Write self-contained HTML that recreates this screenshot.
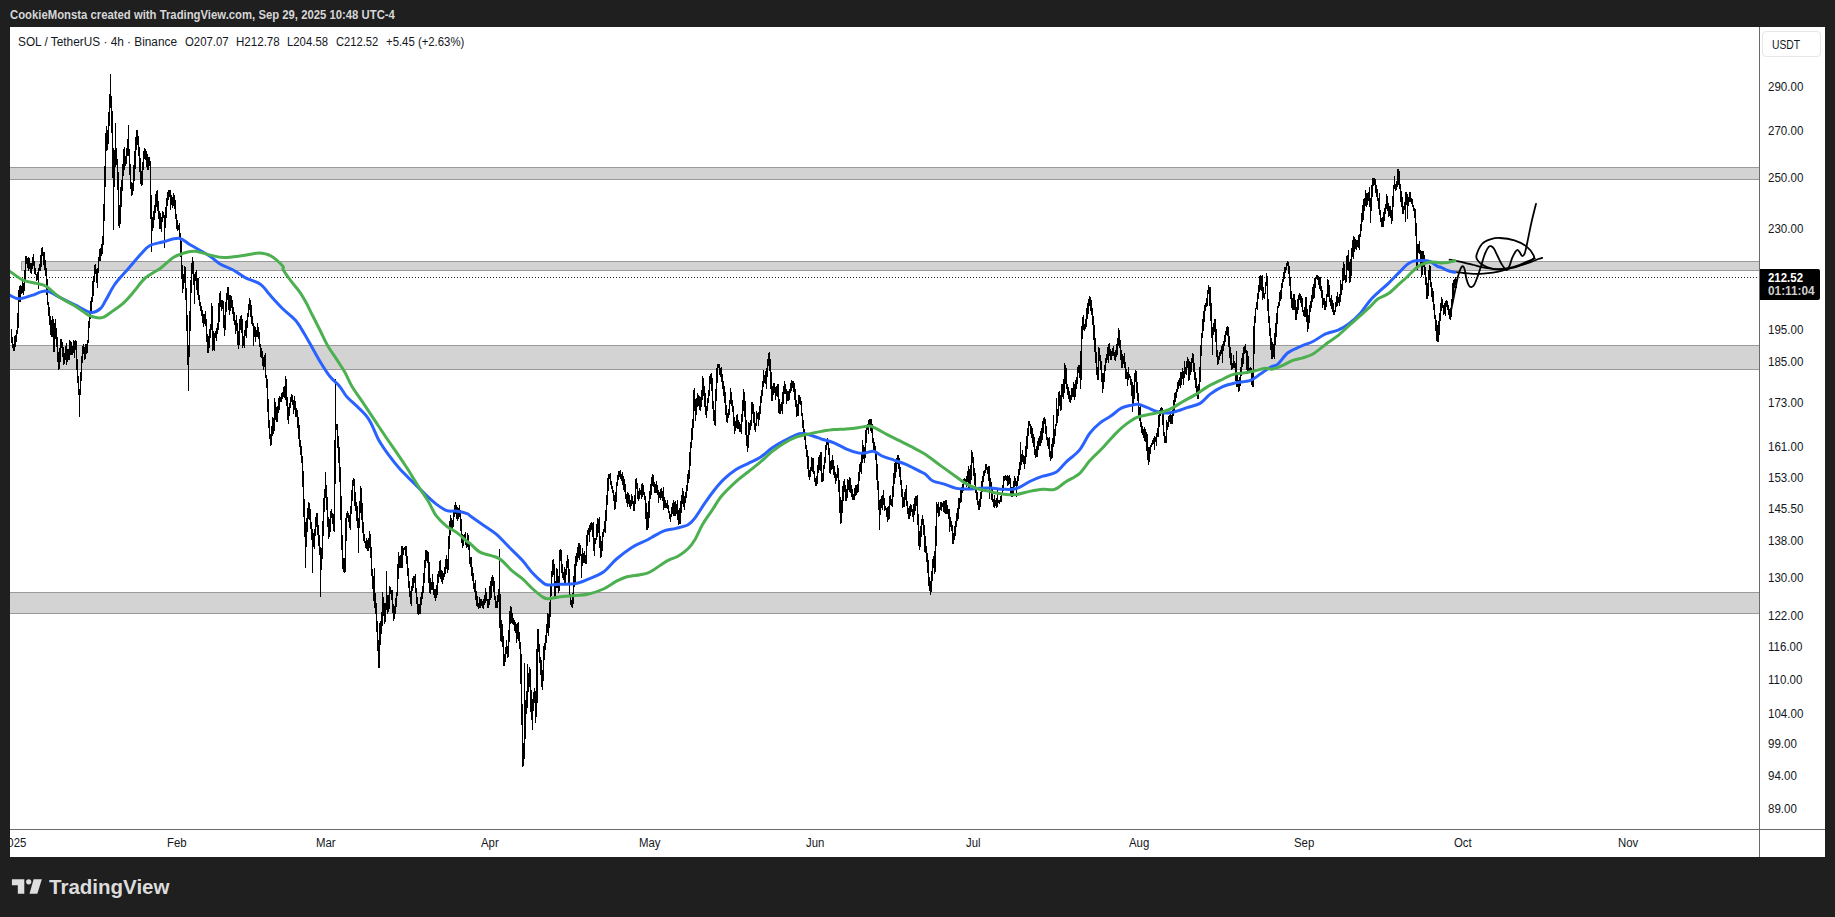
<!DOCTYPE html>
<html><head><meta charset="utf-8"><title>SOL chart</title>
<style>
html,body{margin:0;padding:0;}
body{width:1835px;height:917px;background:#1f1f1f;overflow:hidden;position:relative;font-family:"Liberation Sans",sans-serif;}
#hdr{position:absolute;left:10px;top:8px;height:14px;line-height:14px;font-size:12px;font-weight:bold;color:#d6d6d6;white-space:nowrap;transform-origin:0 50%;transform:scaleX(0.943);}
#pane{position:absolute;left:10px;top:27px;width:1815px;height:830px;background:#fff;overflow:hidden;}
.lg{position:absolute;top:35px;height:14px;line-height:14px;font-size:12px;color:#131722;white-space:pre;transform-origin:0 50%;}
svg{position:absolute;left:0;top:0;}
.pl{position:absolute;left:1768px;width:50px;height:16px;line-height:16px;font-size:12px;color:#131722;transform-origin:0 50%;transform:scaleX(0.962);}
#tax{position:absolute;left:10px;top:830px;width:1749px;height:27px;overflow:hidden;}
.tl{position:absolute;top:5px;height:16px;line-height:16px;font-size:12px;color:#131722;white-space:nowrap;transform-origin:0 50%;transform:scaleX(0.95);}
#usdt{position:absolute;left:1762px;top:31px;width:59px;height:26px;border:1px solid #e6e6e6;border-radius:4px;box-sizing:border-box;font-size:12px;line-height:26px;color:#131722;}
#usdt span{position:absolute;left:9px;top:0;transform-origin:0 50%;transform:scaleX(0.86);}
#cur{position:absolute;left:1760px;top:269px;width:60px;height:31px;background:#000;border-radius:0 2px 2px 0;color:#fff;font-size:12px;font-weight:bold;}
#cur div{position:absolute;left:8px;height:13px;line-height:13px;white-space:nowrap;transform-origin:0 50%;transform:scaleX(0.93);}
#logo{position:absolute;left:49px;top:874px;height:26px;line-height:26px;font-size:20px;font-weight:bold;color:#dcdcdc;transform-origin:0 50%;transform:scaleX(1.026);}
</style></head><body>
<div id="hdr">CookieMonsta created with TradingView.com, Sep 29, 2025 10:48 UTC-4</div>
<div id="pane"></div>
<svg width="1835" height="917" viewBox="0 0 1835 917">
<defs><clipPath id="cp"><rect x="10" y="27" width="1749" height="802"/></clipPath></defs>
<g clip-path="url(#cp)">
<rect x="8.5" y="167.5" width="1751.0" height="12.0" fill="#d3d3d3" stroke="#9a9a9a" stroke-width="1"/><rect x="21.5" y="261.5" width="1738.0" height="9.0" fill="#d3d3d3" stroke="#9a9a9a" stroke-width="1"/><rect x="8.5" y="345.5" width="1751.0" height="24.0" fill="#d3d3d3" stroke="#9a9a9a" stroke-width="1"/><rect x="8.5" y="592.5" width="1751.0" height="21.0" fill="#d3d3d3" stroke="#9a9a9a" stroke-width="1"/>
<line x1="10" y1="277.5" x2="1759" y2="277.5" stroke="#222" stroke-width="1" stroke-dasharray="1 2"/>
<path d="M11 329.3V343.4M12 336.6V347.6M13 344.1V351.0M14 335.9V351.3M15 334.9V347.2M16 329.8V341.9M17 313.3V333.9M18 289.9V328.3M19 285.7V301.8M20 284.8V302.3M21 285.5V293.6M22 280.7V292.6M23 282.6V295.4M24 270.3V291.4M25 255.8V280.3M26 256.2V264.3M27 258.4V267.7M28 257.3V270.7M29 258.0V268.8M30 262.9V273.3M31 262.8V273.5M32 256.5V269.3M33 253.8V266.4M34 260.9V273.7M35 268.1V275.3M36 273.8V281.1M37 272.2V280.0M38 268.1V288.9M39 263.5V270.7M40 255.3V271.0M41 247.8V267.0M42 247.4V255.9M43 252.0V265.1M44 251.7V269.7M45 260.0V275.7M46 267.7V294.8M47 279.3V304.5M48 302.4V316.0M49 306.9V324.8M50 315.7V335.3M51 320.1V336.8M52 316.3V336.9M53 319.1V351.9M54 323.1V352.3M55 319.1V338.8M56 328.2V347.1M57 337.2V361.5M58 352.1V369.6M59 347.6V369.1M60 338.8V361.9M61 339.0V347.8M62 341.9V356.9M63 346.9V364.5M64 352.5V363.8M65 345.7V359.8M66 342.5V364.5M67 349.4V361.6M68 349.3V360.3M69 340.3V359.8M70 341.2V355.3M71 342.2V354.9M72 346.0V355.4M73 340.1V352.6M74 341.0V358.4M75 339.7V350.4M76 340.7V369.6M77 358.6V382.6M78 375.5V395.2M79 389.4V416.5M80 372.0V395.1M81 355.6V381.4M82 346.2V363.0M83 343.9V354.3M84 347.1V359.6M85 343.9V358.8M86 344.1V354.2M87 340.2V353.1M88 320.8V343.3M89 312.3V328.4M90 300.9V319.1M91 296.9V311.4M92 281.2V302.0M93 275.7V296.2M94 265.3V281.8M95 264.4V274.4M96 268.9V283.2M97 267.7V287.7M98 257.4V273.4M99 249.1V261.2M100 248.0V260.9M101 244.1V255.7M102 235.8V254.4M103 204.3V245.1M104 166.1V221.0M105 133.2V186.5M106 126.3V150.6M107 130.4V150.0M108 112.3V144.1M109 94.4V126.1M110 74.2V107.5M111 96.1V132.9M112 111.4V178.3M113 147.6V230.1M114 150.2V187.3M115 123.2V166.8M116 147.5V165.0M117 158.9V189.8M118 172.0V225.6M119 204.8V227.9M120 186.9V224.1M121 180.4V207.2M122 163.8V190.5M123 149.0V175.6M124 147.1V170.1M125 155.8V166.4M126 147.5V164.1M127 139.2V156.4M128 125.4V156.2M129 149.1V174.7M130 163.6V188.8M131 182.2V196.3M132 183.2V195.1M133 165.0V190.7M134 150.8V180.7M135 136.8V168.6M136 129.5V150.3M137 129.8V145.4M138 135.7V156.2M139 147.0V171.6M140 158.3V183.6M141 170.5V186.2M142 161.6V185.1M143 150.9V169.7M144 147.8V159.0M145 148.8V159.5M146 150.7V167.1M147 154.2V169.6M148 156.8V169.5M149 157.2V165.8M150 160.8V218.9M151 194.8V251.9M152 217.1V230.5M153 210.7V228.3M154 205.0V219.6M155 193.8V212.7M156 190.8V206.8M157 190.0V210.6M158 200.5V219.1M159 210.5V228.5M160 212.7V228.9M161 217.0V232.4M162 211.1V222.1M163 211.5V218.1M164 214.6V247.6M165 206.8V227.5M166 198.3V218.1M167 191.5V205.6M168 189.7V200.2M169 189.8V197.4M170 189.7V210.2M171 194.8V205.0M172 196.8V207.8M173 192.7V206.4M174 195.0V208.5M175 199.7V218.9M176 213.5V228.6M177 220.0V231.0M178 225.3V230.4M179 222.5V239.9M180 233.1V256.7M181 241.4V278.7M182 265.0V292.9M183 273.8V289.3M184 266.4V283.3M185 267.2V300.4M186 288.0V331.1M187 314.7V365.2M188 344.7V391.4M189 311.2V357.2M190 279.5V331.2M191 262.9V293.1M192 257.3V274.1M193 260.5V284.9M194 273.6V304.2M195 271.9V280.9M196 269.8V289.7M197 278.4V295.0M198 278.4V299.6M199 295.2V306.2M200 302.1V310.6M201 305.6V315.9M202 309.7V323.0M203 314.0V327.2M204 314.4V323.5M205 311.1V326.4M206 319.1V341.5M207 333.7V352.8M208 335.5V353.0M209 328.9V347.5M210 323.8V337.7M211 302.7V329.8M212 306.3V351.3M213 330.6V349.9M214 332.9V350.5M215 331.1V338.4M216 327.8V341.1M217 322.6V333.7M218 303.1V330.1M219 292.5V321.9M220 290.6V307.3M221 299.5V310.6M222 300.4V309.3M223 300.7V327.7M224 314.6V335.6M225 301.6V329.8M226 292.9V311.6M227 287.4V299.8M228 287.2V309.5M229 294.8V315.0M230 295.3V310.8M231 295.9V308.3M232 299.7V314.2M233 306.8V321.4M234 312.1V324.9M235 320.1V334.4M236 315.4V330.9M237 323.3V345.0M238 331.3V348.5M239 319.2V345.2M240 316.2V329.6M241 315.4V332.6M242 318.6V348.1M243 335.8V346.0M244 330.0V348.0M245 320.6V336.3M246 319.8V337.5M247 312.9V327.6M248 303.7V317.4M249 298.3V309.7M250 299.7V317.1M251 304.6V323.6M252 316.2V325.9M253 322.9V346.3M254 325.7V336.6M255 326.8V342.4M256 330.2V337.3M257 323.0V336.5M258 326.7V339.0M259 331.6V346.6M260 343.7V356.5M261 347.7V358.1M262 350.8V366.1M263 356.7V370.2M264 354.8V367.2M265 353.3V378.3M266 374.7V388.3M267 379.3V412.2M268 399.3V428.3M269 420.4V439.3M270 434.4V445.5M271 425.7V444.6M272 417.2V436.2M273 418.1V433.9M274 398.4V431.0M275 401.9V419.7M276 406.7V422.4M277 406.3V421.6M278 398.4V412.9M279 395.7V409.7M280 396.5V402.3M281 392.9V402.4M282 391.8V399.1M283 387.4V397.0M284 386.0V397.5M285 376.4V400.0M286 379.1V406.4M287 396.9V420.4M288 406.8V423.6M289 402.8V415.8M290 397.2V408.2M291 394.3V402.3M292 394.7V404.5M293 400.1V414.1M294 396.2V410.0M295 400.7V417.2M296 407.7V417.1M297 409.9V427.9M298 416.5V439.1M299 425.4V446.9M300 440.3V455.4M301 445.7V463.0M302 455.9V487.4M303 470.9V516.5M304 499.0V536.5M305 522.2V568.2M306 518.3V546.6M307 507.9V531.5M308 501.6V518.7M309 502.9V519.9M310 509.1V528.7M311 521.8V540.0M312 528.5V573.4M313 533.2V547.0M314 528.6V548.9M315 516.8V536.4M316 513.2V527.1M317 513.2V535.4M318 524.6V545.6M319 535.3V554.6M320 547.3V597.0M321 548.4V570.0M322 521.1V558.5M323 497.6V536.2M324 489.0V511.6M325 471.5V497.8M326 484.6V509.5M327 497.2V526.6M328 516.7V538.8M329 518.7V537.1M330 511.3V531.9M331 508.8V517.7M332 512.8V523.9M333 514.4V531.1M334 440.4V532.2M335 378.5V484.4M336 423.7V429.8M337 423.6V447.8M338 436.1V462.7M339 447.3V481.5M340 466.7V519.8M341 495.7V550.1M342 534.6V569.1M343 558.2V571.7M344 558.4V573.4M345 517.8V571.5M346 513.1V540.9M347 510.5V517.9M348 512.5V522.0M349 514.7V527.5M350 506.3V530.4M351 490.1V514.1M352 479.8V501.2M353 477.9V486.1M354 478.6V506.3M355 491.9V510.6M356 502.1V520.7M357 506.3V527.7M358 517.9V552.5M359 501.1V527.5M360 485.5V513.4M361 488.0V520.3M362 503.3V533.1M363 522.3V541.4M364 534.2V542.8M365 540.8V547.7M366 538.3V548.9M367 540.3V551.0M368 538.3V550.5M369 531.0V548.1M370 533.8V557.7M371 547.2V575.6M372 569.1V588.5M373 575.6V601.3M374 568.2V608.2M375 593.4V613.5M376 603.1V631.7M377 620.6V651.4M378 640.3V668.0M379 622.9V667.6M380 621.3V645.2M381 612.2V634.3M382 591.7V625.8M383 597.1V616.4M384 603.2V624.2M385 602.9V622.0M386 570.8V610.1M387 594.7V613.9M388 595.4V611.5M389 586.0V609.1M390 587.4V594.3M391 590.1V600.2M392 589.9V613.1M393 603.9V620.5M394 605.7V619.4M395 598.0V614.4M396 591.5V607.1M397 563.5V596.0M398 551.9V579.1M399 556.2V568.4M400 555.3V567.5M401 546.4V568.2M402 546.4V568.0M403 547.6V554.9M404 546.6V550.0M405 546.0V555.9M406 546.2V563.5M407 556.1V576.3M408 567.7V587.7M409 581.4V596.7M410 591.1V603.7M411 585.8V606.4M412 578.1V591.3M413 576.2V588.2M414 575.6V583.1M415 574.2V593.1M416 587.9V604.1M417 596.7V613.7M418 604.4V615.3M419 603.9V613.7M420 596.8V614.2M421 592.2V605.4M422 586.4V598.9M423 573.1V593.3M424 559.8V583.3M425 549.5V568.4M426 549.9V561.3M427 551.2V563.1M428 552.0V582.5M429 561.7V593.3M430 578.4V593.5M431 581.6V590.3M432 574.1V589.5M433 581.5V594.9M434 588.6V597.8M435 589.3V600.9M436 584.6V597.9M437 574.1V594.5M438 571.0V583.4M439 561.0V576.9M440 560.0V579.4M441 569.6V582.0M442 571.1V583.5M443 573.2V579.9M444 566.6V576.8M445 559.4V574.0M446 554.8V568.7M447 558.8V572.5M448 536.0V570.2M449 520.6V548.5M450 514.7V534.9M451 518.3V531.1M452 519.7V530.1M453 510.7V526.6M454 504.8V516.9M455 501.5V514.4M456 504.7V518.8M457 506.7V521.3M458 508.1V518.8M459 505.1V516.8M460 509.5V530.8M461 519.3V543.0M462 533.6V547.9M463 534.6V546.1M464 533.5V539.4M465 532.0V545.3M466 540.8V547.6M467 533.1V546.9M468 534.5V550.3M469 541.8V564.1M470 556.8V567.3M471 557.4V575.8M472 566.5V581.3M473 572.8V589.4M474 583.1V592.0M475 579.8V599.8M476 591.4V606.2M477 596.3V607.2M478 603.3V608.7M479 596.7V607.9M480 598.6V608.0M481 599.2V605.7M482 600.6V608.0M483 598.7V608.7M484 594.8V605.4M485 588.3V603.3M486 592.1V601.3M487 598.5V608.1M488 599.4V607.9M489 585.5V605.2M490 581.0V599.8M491 577.2V597.6M492 574.7V585.8M493 577.4V591.6M494 581.4V600.3M495 596.1V607.9M496 601.0V607.6M497 595.1V607.5M498 588.7V601.8M499 548.5V628.1M500 593.7V640.6M501 619.6V642.2M502 624.4V646.9M503 635.8V666.2M504 654.4V666.2M505 646.9V662.4M506 639.5V653.9M507 645.7V658.1M508 629.5V656.7M509 611.3V642.3M510 606.1V624.1M511 607.1V623.2M512 612.6V624.2M513 618.0V624.9M514 619.7V631.1M515 621.5V633.0M516 623.9V643.4M517 623.4V638.7M518 621.8V640.6M519 631.9V648.8M520 641.8V683.7M521 653.7V724.7M522 703.7V766.6M523 742.9V765.9M524 662.7V759.2M525 699.7V739.4M526 690.9V713.9M527 664.3V707.6M528 672.6V691.7M529 667.3V687.4M530 669.0V712.0M531 690.0V720.4M532 699.1V729.8M533 691.5V711.2M534 687.7V703.1M535 690.7V722.6M536 648.5V716.6M537 629.1V702.8M538 628.6V652.3M539 644.3V663.0M540 656.8V675.3M541 660.0V687.0M542 670.1V690.0M543 646.2V681.1M544 643.4V659.6M545 634.9V649.8M546 623.6V643.1M547 613.0V633.4M548 613.5V636.4M549 602.0V628.0M550 586.2V616.7M551 571.1V595.9M552 560.3V576.6M553 558.5V574.6M554 563.5V596.5M555 580.5V597.7M556 568.3V587.9M557 568.6V588.3M558 576.2V593.2M559 549.6V591.4M560 549.4V561.0M561 550.3V572.6M562 564.4V577.6M563 571.8V580.4M564 566.9V583.0M565 569.0V584.4M566 561.0V575.4M567 555.4V567.9M568 558.6V584.5M569 568.6V596.6M570 593.9V604.6M571 600.3V607.4M572 593.1V607.6M573 575.5V604.1M574 563.9V586.8M575 556.2V581.6M576 552.6V565.9M577 547.3V562.1M578 543.2V557.8M579 543.2V560.0M580 544.7V556.4M581 553.6V578.2M582 547.5V565.9M583 553.1V562.6M584 551.1V562.7M585 555.0V564.2M586 535.1V564.1M587 530.2V546.3M588 528.2V535.1M589 525.3V542.0M590 523.4V531.9M591 522.3V529.9M592 523.3V536.6M593 522.0V550.5M594 538.3V556.3M595 537.8V544.3M596 523.7V540.4M597 517.9V537.0M598 519.3V532.7M599 516.6V547.8M600 535.8V557.7M601 540.7V556.6M602 531.5V550.7M603 528.6V536.5M604 520.7V532.2M605 510.4V533.2M606 495.3V520.8M607 478.0V504.9M608 473.9V491.4M609 473.9V478.6M610 473.3V484.8M611 481.0V488.8M612 485.5V493.0M613 489.9V500.9M614 494.7V509.7M615 492.0V509.3M616 482.4V502.0M617 474.5V486.3M618 471.0V479.8M619 470.5V477.2M620 469.6V479.4M621 474.0V480.5M622 472.1V485.2M623 476.2V490.0M624 478.8V491.6M625 483.8V498.6M626 494.1V502.9M627 492.3V506.7M628 492.8V503.5M629 495.4V506.6M630 500.0V509.3M631 493.5V506.4M632 495.8V503.8M633 501.0V510.6M634 494.7V510.6M635 479.4V504.4M636 477.6V489.0M637 482.9V499.2M638 490.5V501.2M639 488.2V498.9M640 490.3V494.7M641 483.5V498.6M642 482.7V496.8M643 485.2V495.2M644 491.5V500.0M645 496.0V518.5M646 502.5V529.6M647 512.1V529.6M648 500.5V527.5M649 490.5V518.0M650 484.2V499.4M651 477.3V495.1M652 474.4V485.9M653 475.3V487.2M654 481.5V492.8M655 484.1V493.1M656 480.9V492.6M657 485.2V494.6M658 489.7V503.1M659 492.3V498.4M660 489.4V500.2M661 488.0V498.4M662 491.2V500.6M663 486.7V510.4M664 497.4V507.5M665 499.7V507.6M666 503.2V507.6M667 500.1V508.5M668 504.8V513.4M669 511.3V519.1M670 514.1V521.6M671 506.7V517.1M672 502.6V513.8M673 499.8V515.7M674 502.0V516.4M675 501.3V516.3M676 504.2V513.8M677 500.0V519.5M678 510.4V524.8M679 508.1V523.8M680 501.1V524.0M681 494.7V512.7M682 488.3V503.7M683 490.6V506.5M684 496.2V510.1M685 491.6V502.5M686 484.6V498.0M687 474.4V491.0M688 470.1V483.2M689 451.9V478.9M690 441.5V465.8M691 428.4V448.0M692 419.1V439.7M693 390.2V428.3M694 388.0V410.5M695 398.5V421.2M696 398.4V415.2M697 392.8V407.0M698 394.8V405.7M699 396.2V410.2M700 396.7V411.1M701 389.8V406.5M702 375.7V399.5M703 378.2V395.8M704 386.0V407.0M705 392.6V414.7M706 406.1V418.1M707 397.8V410.8M708 390.1V402.8M709 376.3V396.3M710 373.7V384.3M711 372.8V391.2M712 378.2V409.2M713 401.1V421.1M714 410.4V425.2M715 389.4V425.5M716 368.0V400.9M717 364.0V382.9M718 364.0V367.5M719 364.0V375.2M720 367.9V376.5M721 366.8V382.0M722 374.4V389.1M723 381.4V395.7M724 386.0V403.0M725 391.7V415.0M726 404.5V422.1M727 413.4V423.4M728 409.0V418.0M729 399.6V415.2M730 388.4V403.6M731 392.0V405.9M732 399.8V411.9M733 406.2V425.9M734 416.9V433.9M735 421.4V431.1M736 415.2V427.8M737 413.6V428.9M738 420.0V428.5M739 421.9V432.3M740 423.7V432.3M741 413.6V433.6M742 399.9V422.0M743 389.2V411.3M744 391.5V416.5M745 401.2V435.4M746 420.1V445.7M747 435.0V451.6M748 421.9V448.0M749 422.8V435.1M750 419.6V429.9M751 402.0V426.3M752 401.6V414.4M753 403.6V423.3M754 412.1V429.9M755 422.6V432.0M756 410.9V426.2M757 412.5V419.4M758 411.6V425.5M759 406.4V419.9M760 396.4V413.5M761 390.2V403.0M762 381.0V396.4M763 370.3V387.2M764 374.9V382.8M765 370.7V383.7M766 368.0V388.6M767 359.0V377.2M768 352.7V365.6M769 351.8V371.1M770 359.1V389.3M771 372.3V401.2M772 386.4V401.0M773 383.2V395.3M774 383.2V392.8M775 387.4V400.3M776 386.2V395.7M777 384.4V397.3M778 384.0V412.9M779 398.5V414.0M780 404.2V414.4M781 402.2V411.0M782 391.5V413.5M783 385.8V403.5M784 380.8V394.2M785 384.0V393.5M786 389.0V404.3M787 391.1V400.9M788 390.7V400.6M789 388.9V399.5M790 382.8V393.4M791 379.6V390.7M792 380.9V387.9M793 380.9V391.7M794 383.2V400.2M795 389.0V407.3M796 399.6V416.9M797 403.9V415.9M798 394.5V415.9M799 394.7V403.5M800 396.8V405.2M801 401.0V415.9M802 413.1V427.5M803 420.0V433.1M804 428.7V439.9M805 433.9V449.2M806 444.5V456.7M807 450.3V468.8M808 455.7V477.4M809 469.9V480.0M810 467.0V477.4M811 456.7V471.3M812 457.5V471.8M813 457.9V473.8M814 470.8V481.7M815 478.4V485.5M816 475.8V486.0M817 464.8V484.2M818 457.4V473.4M819 454.6V469.6M820 451.7V471.0M821 451.6V482.1M822 472.5V481.9M823 465.4V480.5M824 457.4V469.0M825 445.1V462.6M826 439.1V450.2M827 438.0V445.3M828 440.3V455.1M829 447.8V473.4M830 460.7V473.8M831 459.5V470.0M832 454.6V468.9M833 460.1V474.6M834 466.0V477.9M835 472.3V484.1M836 474.0V481.3M837 464.8V478.3M838 467.5V491.5M839 480.4V512.9M840 496.9V524.4M841 499.9V522.6M842 485.6V512.8M843 480.9V500.5M844 478.6V492.4M845 484.8V500.7M846 488.6V500.8M847 479.0V497.5M848 480.3V489.9M849 477.3V491.7M850 477.8V492.8M851 485.4V496.7M852 488.6V499.7M853 494.1V499.8M854 488.4V500.3M855 485.2V495.6M856 485.0V494.8M857 483.9V493.4M858 471.5V491.6M859 463.9V480.8M860 462.1V472.3M861 452.0V473.6M862 440.1V462.9M863 444.8V458.6M864 447.0V463.0M865 430.1V458.0M866 425.3V442.6M867 423.7V430.4M868 419.8V433.6M869 418.8V426.8M870 418.8V430.7M871 418.8V433.4M872 423.9V443.2M873 437.6V451.0M874 442.2V451.4M875 445.8V459.6M876 453.1V479.5M877 464.2V490.3M878 481.0V510.0M879 500.3V530.4M880 498.6V514.5M881 496.0V507.9M882 494.5V509.8M883 490.3V504.9M884 497.9V511.1M885 505.8V509.9M886 508.1V516.5M887 506.8V522.0M888 506.3V519.6M889 496.1V518.9M890 494.6V504.8M891 498.7V506.1M892 486.2V507.4M893 472.5V496.7M894 463.4V483.8M895 459.7V477.5M896 457.7V471.6M897 454.8V464.3M898 454.9V468.9M899 457.5V477.0M900 467.3V484.8M901 479.9V497.0M902 488.5V508.1M903 497.0V507.3M904 491.7V507.0M905 489.0V500.1M906 485.0V505.8M907 501.2V513.5M908 508.3V518.5M909 505.5V519.3M910 503.6V516.1M911 505.0V512.1M912 508.8V517.2M913 503.5V521.5M914 498.4V514.8M915 495.9V510.8M916 495.6V505.6M917 495.3V525.0M918 513.7V545.8M919 531.4V550.4M920 526.0V547.4M921 518.9V537.0M922 514.8V524.6M923 519.2V534.9M924 525.3V552.2M925 536.1V552.5M926 545.6V562.1M927 553.3V572.5M928 559.9V586.0M929 577.1V590.9M930 580.7V595.2M931 571.0V591.5M932 559.4V581.1M933 555.6V567.6M934 551.0V573.5M935 526.1V572.0M936 502.1V546.2M937 503.6V512.7M938 501.8V516.9M939 506.9V515.7M940 501.8V510.1M941 501.6V510.7M942 502.8V507.4M943 501.2V511.8M944 501.0V513.4M945 500.4V514.4M946 500.4V513.8M947 505.3V513.6M948 509.0V519.4M949 509.2V531.9M950 517.1V527.4M951 521.0V531.3M952 525.0V543.9M953 533.4V543.6M954 525.6V540.3M955 521.0V536.4M956 512.9V526.6M957 507.8V521.3M958 497.6V519.3M959 498.1V508.8M960 490.2V502.8M961 486.7V502.4M962 483.8V492.7M963 478.8V491.1M964 477.9V484.0M965 478.7V483.2M966 475.8V486.6M967 470.8V481.5M968 465.7V489.6M969 468.5V487.7M970 465.2V486.4M971 449.7V480.4M972 451.5V463.2M973 457.0V475.9M974 467.8V485.2M975 473.3V493.4M976 488.8V499.7M977 491.6V504.5M978 501.4V510.0M979 498.6V510.0M980 492.3V506.9M981 481.2V499.1M982 476.3V492.4M983 471.2V481.6M984 469.7V475.7M985 464.4V472.7M986 464.4V470.4M987 466.8V474.0M988 466.1V481.0M989 465.6V498.7M990 478.1V488.5M991 481.5V499.6M992 489.1V502.0M993 499.3V507.4M994 494.7V507.6M995 499.9V505.5M996 498.3V507.8M997 489.7V507.4M998 499.9V503.1M999 499.5V503.6M1000 496.2V502.1M1001 493.9V502.3M1002 484.6V495.1M1003 475.8V490.9M1004 475.7V481.3M1005 474.9V479.7M1006 476.1V480.9M1007 475.0V486.1M1008 476.0V485.1M1009 474.8V483.6M1010 478.3V493.8M1011 486.5V497.2M1012 487.1V497.2M1013 481.0V493.7M1014 475.7V486.9M1015 477.5V486.1M1016 481.2V497.2M1017 475.8V486.1M1018 468.5V480.8M1019 462.0V474.5M1020 441.8V470.1M1021 453.7V465.4M1022 449.5V461.8M1023 455.1V464.3M1024 456.3V468.8M1025 446.0V464.4M1026 435.5V456.9M1027 427.7V448.7M1028 421.0V436.2M1029 421.3V426.0M1030 423.5V433.7M1031 426.1V437.6M1032 427.5V442.6M1033 434.1V446.7M1034 436.6V454.7M1035 449.0V457.9M1036 445.6V456.6M1037 441.0V456.5M1038 438.3V449.8M1039 435.5V446.0M1040 430.8V445.7M1041 428.2V443.0M1042 421.3V439.9M1043 418.4V433.0M1044 417.4V423.9M1045 418.6V433.7M1046 426.0V439.7M1047 436.9V446.0M1048 437.6V448.6M1049 437.1V456.8M1050 450.8V460.5M1051 444.4V459.1M1052 437.9V457.9M1053 414.8V446.7M1054 428.5V444.1M1055 423.5V435.7M1056 398.2V425.8M1057 408.6V423.1M1058 391.8V416.0M1059 391.1V405.9M1060 394.8V410.5M1061 384.3V410.4M1062 384.4V397.1M1063 378.7V398.5M1064 363.2V393.0M1065 364.8V383.6M1066 367.8V389.3M1067 384.3V394.8M1068 387.3V398.5M1069 391.4V401.7M1070 394.7V402.8M1071 388.4V399.8M1072 387.9V396.8M1073 381.5V397.4M1074 384.4V399.5M1075 380.3V397.1M1076 377.1V388.6M1077 366.8V384.3M1078 365.4V373.0M1079 365.3V378.1M1080 351.1V388.8M1081 325.5V380.4M1082 317.3V339.0M1083 314.9V330.2M1084 323.5V330.9M1085 319.2V329.1M1086 308.3V326.8M1087 302.6V319.1M1088 299.0V314.4M1089 295.7V306.3M1090 296.6V311.4M1091 299.5V315.4M1092 308.0V325.3M1093 315.9V340.0M1094 325.2V352.2M1095 337.6V362.9M1096 352.2V374.5M1097 366.8V380.0M1098 346.9V379.7M1099 348.2V360.7M1100 354.9V369.6M1101 361.3V382.1M1102 373.2V392.5M1103 372.6V388.9M1104 365.4V382.1M1105 358.1V371.4M1106 353.8V362.7M1107 346.9V359.6M1108 344.2V362.7M1109 343.0V356.1M1110 349.2V360.3M1111 350.6V360.3M1112 348.3V356.2M1113 345.9V355.8M1114 352.1V360.4M1115 350.4V361.1M1116 343.7V357.1M1117 337.7V355.0M1118 328.4V346.2M1119 329.9V348.0M1120 340.2V359.6M1121 349.8V367.6M1122 353.8V368.3M1123 355.5V363.7M1124 352.5V367.9M1125 362.2V378.5M1126 369.4V379.2M1127 372.4V385.5M1128 367.2V380.1M1129 373.5V378.1M1130 375.7V385.2M1131 378.8V395.6M1132 382.2V412.3M1133 385.2V405.1M1134 372.7V398.9M1135 370.3V382.2M1136 370.9V392.6M1137 382.0V401.4M1138 392.5V416.7M1139 406.7V421.0M1140 405.3V426.9M1141 421.7V432.5M1142 426.4V434.7M1143 429.4V438.0M1144 426.5V441.2M1145 429.0V441.8M1146 432.2V450.5M1147 433.6V460.2M1148 446.6V464.5M1149 446.5V461.7M1150 444.7V454.3M1151 442.8V447.2M1152 440.4V445.2M1153 438.1V444.0M1154 435.8V449.5M1155 436.6V442.2M1156 432.5V446.2M1157 427.9V437.0M1158 415.0V437.3M1159 409.5V426.8M1160 408.3V415.8M1161 406.7V414.4M1162 407.5V425.2M1163 414.0V436.2M1164 432.2V443.4M1165 435.6V443.0M1166 419.7V442.6M1167 422.2V430.4M1168 415.7V426.6M1169 414.5V421.6M1170 414.2V423.8M1171 415.3V423.7M1172 409.6V423.6M1173 400.2V415.5M1174 393.1V410.7M1175 391.5V402.3M1176 389.2V398.4M1177 381.7V391.7M1178 379.9V389.2M1179 377.5V386.2M1180 372.1V387.8M1181 371.7V384.5M1182 367.6V379.4M1183 370.6V384.5M1184 360.5V378.1M1185 367.2V374.4M1186 360.7V374.7M1187 356.9V367.9M1188 359.1V380.8M1189 360.5V379.6M1190 361.8V374.8M1191 357.9V371.6M1192 352.6V363.4M1193 353.7V372.2M1194 363.0V380.2M1195 371.6V388.2M1196 378.2V395.6M1197 386.2V398.6M1198 384.2V399.2M1199 367.3V393.2M1200 344.7V382.0M1201 333.1V355.9M1202 318.6V337.5M1203 311.0V330.8M1204 305.0V322.0M1205 302.7V311.3M1206 298.4V306.8M1207 289.8V305.8M1208 285.1V294.3M1209 286.5V306.0M1210 287.2V320.9M1211 303.3V337.9M1212 327.0V355.3M1213 323.2V334.6M1214 318.7V331.5M1215 319.3V341.9M1216 329.2V356.8M1217 349.9V365.3M1218 355.6V364.0M1219 351.8V359.6M1220 349.6V356.4M1221 346.4V354.4M1222 343.8V362.8M1223 340.5V350.7M1224 335.3V345.5M1225 331.2V342.4M1226 327.4V335.4M1227 326.1V335.6M1228 327.1V347.0M1229 336.3V358.1M1230 347.3V364.6M1231 353.0V369.7M1232 362.8V368.7M1233 355.2V368.0M1234 360.9V367.9M1235 363.2V381.2M1236 350.9V387.3M1237 374.8V387.1M1238 379.5V391.6M1239 377.2V391.1M1240 366.6V385.6M1241 358.4V375.6M1242 352.7V367.1M1243 346.6V363.8M1244 345.7V353.9M1245 344.3V353.2M1246 349.5V369.6M1247 351.4V373.6M1248 355.7V370.7M1249 367.9V370.9M1250 366.7V371.9M1251 367.6V384.7M1252 370.7V386.6M1253 326.4V386.7M1254 315.5V354.0M1255 307.6V322.5M1256 301.8V309.0M1257 292.6V310.3M1258 284.5V299.4M1259 275.7V292.4M1260 275.4V289.9M1261 276.2V290.5M1262 274.5V300.2M1263 287.1V297.8M1264 293.0V299.0M1265 282.0V293.9M1266 273.4V286.4M1267 276.3V311.3M1268 299.4V322.9M1269 316.2V335.8M1270 328.1V349.6M1271 338.3V358.5M1272 341.7V359.0M1273 343.8V357.0M1274 332.8V358.5M1275 322.5V345.3M1276 312.8V336.7M1277 305.8V324.0M1278 302.0V308.4M1279 292.3V306.4M1280 289.5V301.0M1281 282.5V298.5M1282 278.6V288.3M1283 271.7V281.8M1284 267.2V279.0M1285 266.5V272.9M1286 262.7V269.6M1287 260.8V265.7M1288 262.4V274.4M1289 266.4V286.0M1290 277.2V299.0M1291 290.9V308.4M1292 297.9V309.9M1293 294.2V309.8M1294 293.6V310.1M1295 300.2V320.2M1296 306.7V319.9M1297 298.6V314.3M1298 295.4V310.1M1299 292.8V300.2M1300 294.0V302.7M1301 296.0V306.7M1302 298.2V311.7M1303 309.7V316.1M1304 307.0V316.5M1305 297.2V316.8M1306 297.0V322.0M1307 309.4V331.5M1308 314.6V329.4M1309 304.6V322.8M1310 301.3V312.0M1311 295.3V308.2M1312 287.4V301.9M1313 283.8V298.8M1314 278.4V297.7M1315 276.9V288.1M1316 275.4V278.9M1317 275.0V280.0M1318 275.5V285.0M1319 277.2V288.9M1320 276.8V290.8M1321 286.3V298.1M1322 289.7V308.0M1323 297.8V305.2M1324 298.3V309.5M1325 301.3V310.0M1326 294.4V307.0M1327 279.2V297.3M1328 280.1V297.3M1329 284.8V301.6M1330 297.5V305.8M1331 295.0V308.7M1332 299.9V312.3M1333 302.5V315.4M1334 309.5V315.4M1335 301.9V311.5M1336 295.9V306.6M1337 292.4V306.2M1338 296.5V303.1M1339 294.2V306.4M1340 279.9V301.5M1341 283.8V295.1M1342 267.9V289.8M1343 262.3V281.0M1344 264.1V279.9M1345 274.6V283.2M1346 256.1V282.0M1347 255.1V269.6M1348 250.0V271.2M1349 261.8V282.6M1350 259.3V281.7M1351 248.3V275.6M1352 240.0V256.8M1353 235.5V259.3M1354 237.3V252.3M1355 238.6V249.3M1356 240.3V249.7M1357 239.8V247.1M1358 234.9V247.5M1359 233.5V249.5M1360 223.7V237.2M1361 212.9V230.7M1362 204.9V222.3M1363 199.1V219.8M1364 198.4V210.7M1365 190.1V206.3M1366 192.5V207.1M1367 192.6V204.7M1368 192.2V200.9M1369 187.1V207.0M1370 198.4V223.4M1371 185.1V211.4M1372 178.2V197.3M1373 178.2V185.5M1374 178.3V184.9M1375 179.0V193.0M1376 185.0V196.7M1377 188.7V201.3M1378 198.0V208.5M1379 193.3V215.1M1380 210.3V221.6M1381 218.3V227.3M1382 217.2V227.3M1383 211.7V226.8M1384 208.4V220.5M1385 203.9V214.4M1386 194.0V209.4M1387 196.2V211.0M1388 203.0V216.6M1389 206.4V215.5M1390 206.1V217.8M1391 210.2V223.6M1392 196.1V220.5M1393 185.2V207.2M1394 175.6V189.1M1395 184.1V191.3M1396 181.0V190.0M1397 169.3V187.1M1398 169.3V185.1M1399 170.8V189.1M1400 183.7V202.2M1401 191.4V206.9M1402 196.9V213.9M1403 206.2V213.9M1404 202.1V210.4M1405 191.6V221.9M1406 191.5V204.7M1407 193.5V218.8M1408 196.8V205.9M1409 192.4V202.2M1410 192.0V201.5M1411 198.1V203.7M1412 199.2V206.8M1413 204.5V211.0M1414 208.3V218.2M1415 208.8V235.9M1416 223.0V268.6M1417 243.7V270.1M1418 244.4V253.4M1419 241.4V254.3M1420 250.3V264.8M1421 250.5V277.3M1422 250.6V274.5M1423 250.6V267.4M1424 255.3V275.4M1425 267.3V284.8M1426 276.5V299.1M1427 283.4V299.3M1428 269.6V295.7M1429 265.3V280.4M1430 265.7V287.0M1431 282.1V296.7M1432 287.6V302.2M1433 290.8V309.7M1434 304.3V319.3M1435 314.6V330.6M1436 320.3V340.7M1437 324.5V342.3M1438 321.4V342.3M1439 312.6V334.6M1440 302.6V320.9M1441 296.8V311.2M1442 299.3V307.9M1443 304.5V314.8M1444 303.2V314.2M1445 300.6V316.4M1446 299.5V307.1M1447 300.6V310.0M1448 304.9V315.3M1449 308.8V318.5M1450 308.3V319.9M1451 298.5V317.2M1452 283.3V303.2M1453 280.4V296.1M1454 278.6V287.8M1455 277.0V284.7M1456 279.4V288.1" stroke="#000" stroke-width="1" fill="none" shape-rendering="crispEdges" transform="translate(0.5,0)"/>
<g stroke="#000" stroke-width="1.8" fill="none" stroke-linecap="round" stroke-linejoin="round">
<path d="M1450.4 313.5C1450.9 311.2 1451.9 306.2 1453.2 300.0C1454.5 293.8 1456.7 281.7 1458.0 276.4C1459.3 271.1 1460.2 269.7 1461.0 268.0C1461.8 266.3 1462.2 266.0 1462.8 266.2C1463.4 266.4 1464.0 267.1 1464.6 269.2C1465.2 271.3 1465.7 276.1 1466.4 278.8C1467.1 281.5 1468.0 284.0 1468.8 285.4C1469.6 286.8 1470.5 287.3 1471.4 287.2C1472.3 287.1 1473.2 286.4 1474.2 284.8C1475.2 283.2 1476.1 280.6 1477.2 277.6C1478.3 274.6 1479.5 270.8 1480.8 266.8C1482.1 262.8 1483.7 256.9 1485.0 253.6C1486.3 250.3 1487.6 248.2 1488.6 247.0C1489.6 245.8 1490.1 245.9 1491.0 246.2C1491.9 246.5 1492.9 247.2 1494.0 248.8C1495.1 250.4 1496.3 253.4 1497.6 256.0C1498.9 258.6 1500.5 262.2 1501.8 264.4C1503.1 266.6 1504.5 268.3 1505.4 269.2C1506.3 270.1 1506.5 270.4 1507.2 269.8C1507.9 269.2 1508.8 267.5 1509.6 265.6C1510.4 263.7 1511.1 260.6 1512.0 258.4C1512.9 256.2 1514.1 253.8 1515.0 252.4C1515.9 251.0 1516.6 249.8 1517.4 249.8C1518.2 249.8 1519.0 251.4 1519.8 252.4C1520.6 253.4 1521.4 255.8 1522.2 256.0C1523.0 256.2 1523.8 255.6 1524.6 253.6C1525.4 251.6 1525.9 249.0 1527.0 244.0C1528.1 239.0 1529.7 230.3 1531.2 223.6C1532.7 216.9 1535.2 207.1 1536.0 203.8"/>
<path d="M1449.6 259.6C1450.6 259.8 1453.2 260.3 1455.6 260.8C1458.0 261.3 1461.0 261.9 1464.0 262.6C1467.0 263.3 1470.4 264.2 1473.6 265.0C1476.8 265.8 1480.2 266.8 1483.2 267.4C1486.2 268.0 1488.8 268.3 1491.6 268.6C1494.4 268.9 1497.0 269.3 1500.0 269.2C1503.0 269.1 1506.4 268.7 1509.6 268.0C1512.8 267.3 1516.2 266.1 1519.2 265.0C1522.2 263.9 1525.0 262.5 1527.6 261.4C1530.2 260.3 1533.6 258.9 1534.8 258.4"/>
<path d="M1455.6 272.2C1457.0 272.3 1461.0 272.7 1464.0 273.0C1467.0 273.3 1470.4 273.7 1473.6 273.8C1476.8 273.9 1480.0 273.8 1483.2 273.6C1486.4 273.4 1489.6 273.1 1492.8 272.6C1496.0 272.1 1499.2 271.4 1502.4 270.6C1505.6 269.8 1508.8 268.9 1512.0 268.0C1515.2 267.1 1518.4 266.0 1521.6 265.0C1524.8 264.0 1528.4 262.8 1531.2 261.8C1534.0 260.8 1536.6 259.7 1538.4 259.0C1540.2 258.3 1541.6 258.0 1542.2 257.8"/>
<path d="M1476.6 254.8C1477.4 252.2 1479.7 246.6 1482.0 244.0C1484.3 241.4 1487.4 240.4 1490.4 239.4C1493.4 238.4 1496.0 237.8 1500.0 238.0C1504.0 238.2 1510.0 239.0 1514.4 240.4C1518.8 241.8 1523.2 243.9 1526.4 246.4C1529.6 248.9 1532.6 253.2 1533.6 255.4C1534.6 257.6 1534.4 258.0 1532.4 259.6C1530.4 261.2 1526.2 263.4 1521.6 265.0C1517.0 266.6 1509.8 268.6 1504.8 269.2C1499.8 269.8 1495.4 269.4 1491.6 268.6C1487.8 267.8 1484.4 265.9 1482.0 264.4C1479.6 262.9 1478.1 261.2 1477.2 259.6C1476.3 258.0 1475.8 257.4 1476.6 254.8Z"/>
</g>
<path d="M10.0 295.4C11.4 295.9 15.1 298.7 18.7 298.7C22.3 298.7 27.2 296.7 31.8 295.4C36.4 294.1 41.3 290.7 46.0 291.1C50.7 291.5 55.3 295.2 60.2 297.6C65.1 300.0 70.3 302.7 75.4 305.2C80.5 307.7 86.5 311.8 90.7 312.4C94.9 312.9 98.0 310.6 100.5 308.5C103.0 306.4 103.6 303.8 106.0 299.8C108.4 295.8 111.1 289.6 114.7 284.5C118.3 279.4 123.4 274.4 127.8 269.3C132.2 264.2 137.3 257.9 140.9 254.0C144.5 250.1 146.0 247.7 149.6 245.7C153.2 243.7 157.8 243.2 162.7 242.0C167.6 240.8 174.3 237.8 179.0 238.3C183.7 238.9 185.8 242.3 191.0 245.3C196.2 248.3 205.2 253.1 210.0 256.2C214.8 259.3 216.1 261.7 220.0 264.0C223.9 266.3 229.0 267.7 233.2 270.0C237.4 272.3 240.6 275.2 245.1 277.6C249.6 280.0 256.4 281.5 260.4 284.2C264.4 286.9 265.5 290.0 269.1 294.0C272.7 298.0 277.8 303.8 282.2 308.2C286.6 312.6 291.7 315.9 295.3 320.1C298.9 324.3 301.1 328.5 304.0 333.2C306.9 337.9 309.8 343.4 312.7 348.5C315.6 353.6 318.5 359.0 321.4 363.7C324.3 368.4 327.3 373.2 330.2 376.8C333.1 380.4 336.4 382.6 338.9 385.5C341.4 388.4 343.5 392.2 345.0 394.3C346.5 396.4 344.2 394.1 348.0 398.0C351.8 401.9 362.7 410.8 367.8 417.8C372.9 424.8 375.1 433.7 378.7 440.0C382.3 446.3 385.7 450.9 389.2 455.7C392.7 460.5 395.8 464.4 399.7 468.8C403.6 473.2 408.3 477.5 412.7 481.9C417.1 486.2 421.9 491.2 425.8 494.9C429.7 498.6 432.8 501.5 436.3 504.1C439.8 506.7 443.3 509.4 446.8 510.6C450.3 511.8 453.7 510.7 457.2 511.2C460.7 511.7 465.6 513.0 467.7 513.8C469.8 514.6 467.4 513.9 470.0 515.8C472.6 517.6 478.7 521.8 483.1 524.9C487.5 528.0 491.9 530.4 496.2 534.1C500.5 537.8 504.9 542.8 509.2 547.2C513.5 551.6 518.4 555.9 522.3 560.3C526.2 564.6 529.3 569.5 532.8 573.3C536.3 577.1 540.7 581.0 543.3 583.0C545.9 585.0 545.9 584.9 548.5 585.1C551.1 585.3 554.6 584.5 559.0 584.3C563.4 584.1 569.9 584.6 574.7 583.8C579.5 583.0 582.9 581.4 587.7 579.4C592.5 577.4 598.6 575.4 603.4 572.0C608.2 568.6 611.7 563.1 616.5 559.0C621.3 554.9 627.3 550.3 632.2 547.2C637.1 544.1 642.7 542.2 646.0 540.5C649.3 538.8 649.0 538.8 652.0 537.2C655.0 535.6 660.0 532.3 664.0 530.8C668.0 529.3 672.0 529.4 676.0 528.4C680.0 527.4 684.8 526.6 688.0 524.8C691.2 523.0 692.4 521.2 695.2 517.6C698.0 514.0 701.6 507.8 704.8 503.2C708.0 498.6 711.2 494.0 714.4 490.0C717.6 486.0 720.4 482.6 724.0 479.2C727.6 475.8 732.0 472.2 736.0 469.6C740.0 467.0 744.0 465.6 748.0 463.6C752.0 461.6 756.0 460.2 760.0 457.6C764.0 455.0 768.0 450.8 772.0 448.0C776.0 445.2 780.0 443.0 784.0 440.8C788.0 438.6 792.8 436.0 796.0 434.8C799.2 433.6 800.4 433.4 803.2 433.6C806.0 433.8 810.0 435.2 812.8 436.0C815.6 436.8 818.5 437.9 820.0 438.4C821.5 438.9 819.7 438.5 822.0 439.2C824.3 439.9 830.0 441.2 834.0 442.8C838.0 444.4 842.0 447.1 846.0 448.8C850.0 450.5 854.8 452.2 858.0 452.9C861.2 453.6 862.6 453.2 865.2 452.9C867.8 452.6 870.8 450.7 873.6 451.2C876.4 451.7 878.6 454.5 882.0 456.0C885.4 457.5 890.0 458.7 894.0 460.1C898.0 461.5 902.0 462.7 906.0 464.4C910.0 466.1 914.8 468.8 918.0 470.4C921.2 472.0 922.8 472.3 925.2 474.0C927.6 475.7 929.2 479.0 932.4 480.7C935.6 482.4 940.4 482.8 944.4 484.1C948.4 485.4 952.4 487.6 956.4 488.4C960.4 489.2 964.8 489.1 968.4 489.1C972.0 489.1 974.3 488.6 978.0 488.4C981.7 488.2 986.2 487.9 990.5 488.0C994.8 488.1 999.1 489.2 1003.5 489.3C1007.9 489.4 1012.2 489.8 1016.6 488.5C1021.0 487.2 1025.3 483.6 1029.7 481.5C1034.1 479.4 1038.4 477.7 1042.8 476.2C1047.2 474.7 1052.0 474.7 1055.9 472.3C1059.8 469.9 1062.4 465.5 1066.3 461.8C1070.2 458.1 1075.5 454.9 1079.4 450.1C1083.3 445.3 1086.4 437.7 1089.9 433.1C1093.4 428.5 1096.9 425.4 1100.4 422.6C1103.9 419.8 1107.3 418.5 1110.8 416.1C1114.3 413.7 1117.8 410.0 1121.3 408.2C1124.8 406.4 1129.0 405.8 1131.8 405.1C1134.6 404.5 1135.7 403.9 1138.3 404.3C1140.9 404.7 1144.3 406.5 1147.5 407.7C1150.7 408.9 1154.2 410.8 1157.5 411.7C1160.8 412.6 1164.2 413.0 1167.5 412.9C1170.8 412.8 1174.2 411.8 1177.6 410.9C1180.9 410.0 1183.8 408.6 1187.6 407.4C1191.3 406.1 1196.3 405.6 1200.1 403.4C1203.9 401.2 1206.4 396.9 1210.2 394.1C1214.0 391.3 1218.5 388.5 1222.7 386.6C1226.9 384.7 1230.6 383.9 1235.2 382.9C1239.8 381.9 1246.1 381.9 1250.3 380.4C1254.5 378.9 1257.0 376.3 1260.3 374.1C1263.6 371.9 1267.4 369.0 1270.3 367.3C1273.2 365.6 1275.0 366.5 1277.9 364.1C1280.8 361.7 1284.2 355.7 1287.9 352.8C1291.7 349.9 1296.2 348.4 1300.4 346.5C1304.6 344.6 1309.1 343.4 1312.9 341.5C1316.7 339.6 1320.4 336.6 1323.0 335.2C1325.6 333.8 1325.7 333.9 1328.3 333.0C1330.9 332.1 1335.1 331.4 1338.6 329.9C1342.0 328.3 1345.5 326.3 1349.0 323.7C1352.5 321.1 1356.0 318.1 1359.4 314.3C1362.9 310.5 1366.6 304.5 1369.7 300.9C1372.8 297.3 1374.9 295.5 1378.0 292.6C1381.1 289.7 1385.0 286.6 1388.4 283.3C1391.9 280.0 1395.6 276.0 1398.7 272.9C1401.8 269.8 1404.6 266.6 1407.0 264.6C1409.4 262.6 1410.8 261.8 1413.2 261.1C1415.6 260.4 1418.7 260.4 1421.5 260.5C1424.3 260.6 1427.0 260.5 1429.8 261.5C1432.6 262.5 1436.4 265.8 1438.1 266.7C1439.8 267.6 1438.7 266.3 1440.0 266.8C1441.3 267.3 1444.0 269.0 1446.0 269.8C1448.0 270.6 1450.5 271.4 1452.0 271.8C1453.5 272.2 1454.5 272.1 1455.0 272.2" stroke="#2962ff" stroke-width="3" fill="none" stroke-linejoin="round" stroke-linecap="round"/>
<path d="M10.0 271.4C12.2 272.9 18.7 278.2 23.1 280.2C27.5 282.2 32.4 282.4 36.2 283.4C40.0 284.4 42.0 283.9 46.0 286.3C50.0 288.7 55.3 294.3 60.2 297.6C65.1 300.9 70.7 303.4 75.4 306.3C80.1 309.2 84.9 313.2 88.5 315.1C92.1 317.0 94.7 317.4 97.2 317.7C99.8 318.0 101.2 318.3 103.8 317.2C106.3 316.1 109.2 313.5 112.5 311.1C115.8 308.8 119.8 306.4 123.4 303.1C127.0 299.8 130.7 295.3 134.3 291.1C137.9 286.9 140.8 281.8 145.2 278.0C149.6 274.2 155.8 271.6 160.5 268.2C165.2 264.8 169.6 259.9 173.6 257.3C177.6 254.8 180.9 253.9 184.5 252.9C188.1 251.9 191.2 250.8 195.4 251.2C199.7 251.6 205.3 254.0 210.0 255.1C214.7 256.1 218.2 257.4 223.8 257.5C229.4 257.6 237.5 256.2 243.4 255.5C249.3 254.8 254.4 252.9 259.0 253.0C263.6 253.1 267.1 253.8 271.0 256.0C274.9 258.2 280.6 263.7 282.7 266.0C284.8 268.3 281.9 267.5 283.3 270.0C284.7 272.5 288.2 277.3 290.9 280.9C293.6 284.5 297.1 288.2 299.6 291.8C302.2 295.4 304.0 298.7 306.2 302.7C308.4 306.7 310.3 311.1 312.7 315.8C315.1 320.5 317.8 325.9 320.4 331.0C322.9 336.1 325.3 341.6 328.0 346.3C330.7 351.0 333.9 355.0 336.7 359.4C339.5 363.8 342.4 368.0 345.0 372.5C347.6 377.0 348.9 381.1 352.0 386.4C355.1 391.6 360.0 398.1 363.9 404.0C367.8 409.9 371.6 415.7 375.6 421.7C379.6 427.7 384.3 434.8 387.9 440.0C391.5 445.2 393.7 448.3 397.0 453.1C400.3 457.9 404.0 463.4 407.5 468.8C411.0 474.2 414.5 480.4 418.0 485.8C421.5 491.2 425.3 496.5 428.4 501.5C431.4 506.5 433.2 511.8 436.3 515.9C439.4 520.0 443.3 523.5 446.8 526.3C450.3 529.1 453.7 530.3 457.2 532.9C460.7 535.5 465.6 540.3 467.7 542.0C469.8 543.7 467.9 541.6 470.0 543.3C472.1 545.0 475.7 549.9 480.5 552.4C485.3 554.9 493.6 555.3 498.8 558.4C504.0 561.5 508.0 567.3 511.9 570.7C515.8 574.1 518.8 575.6 522.3 578.6C525.8 581.6 529.3 585.9 532.8 589.0C536.3 592.1 540.7 595.8 543.3 597.4C545.9 599.0 545.9 598.8 548.5 598.7C551.1 598.6 554.6 597.4 559.0 596.9C563.4 596.4 569.9 596.0 574.7 595.6C579.5 595.2 582.9 595.4 587.7 594.3C592.5 593.2 598.6 591.2 603.4 589.0C608.2 586.8 612.6 583.2 616.5 581.2C620.4 579.2 623.1 577.9 627.0 576.8C630.9 575.7 636.3 575.5 640.1 574.7C643.9 573.9 646.1 574.0 650.0 572.0C653.9 570.0 660.6 565.0 663.7 563.0C666.8 561.0 666.3 561.3 668.8 560.1C671.2 558.9 675.2 557.9 678.4 556.0C681.6 554.1 685.2 551.6 688.0 548.8C690.8 546.0 692.8 543.2 695.2 539.2C697.6 535.2 699.6 529.6 702.4 524.8C705.2 520.0 708.8 515.2 712.0 510.4C715.2 505.6 717.6 500.8 721.6 496.0C725.6 491.2 731.6 485.6 736.0 481.6C740.4 477.6 744.0 475.2 748.0 472.0C752.0 468.8 756.0 465.8 760.0 462.4C764.0 459.0 768.0 454.8 772.0 451.6C776.0 448.4 780.0 445.6 784.0 443.2C788.0 440.8 792.0 438.7 796.0 437.2C800.0 435.7 803.7 435.1 808.0 434.1C812.3 433.1 817.7 432.1 822.0 431.3C826.3 430.6 830.0 430.0 834.0 429.6C838.0 429.2 842.0 429.2 846.0 428.9C850.0 428.6 854.2 428.2 858.0 427.7C861.8 427.2 866.0 426.0 868.8 426.0C871.6 426.0 871.8 426.5 874.8 427.9C877.8 429.3 882.8 432.3 886.8 434.4C890.8 436.5 894.8 438.4 898.8 440.4C902.8 442.4 906.4 444.1 910.8 446.4C915.2 448.7 920.4 451.2 925.2 454.3C930.0 457.4 934.8 461.4 939.6 464.9C944.4 468.4 949.6 472.1 954.0 475.2C958.4 478.3 962.0 481.3 966.0 483.6C970.0 485.9 974.0 487.6 978.0 488.9C982.0 490.2 987.5 490.7 990.0 491.3C992.5 491.9 990.4 492.0 993.1 492.5C995.8 493.0 1002.3 494.2 1006.2 494.5C1010.1 494.8 1012.7 495.0 1016.6 494.5C1020.5 494.0 1025.3 492.3 1029.7 491.4C1034.1 490.5 1038.7 489.6 1042.8 489.3C1046.9 489.0 1050.7 490.6 1054.6 489.3C1058.5 488.0 1062.2 484.1 1066.3 481.5C1070.4 478.9 1075.5 477.1 1079.4 473.6C1083.3 470.1 1086.0 464.9 1089.9 460.5C1093.8 456.1 1098.6 452.1 1103.0 447.5C1107.4 442.9 1112.2 437.0 1116.1 433.1C1120.0 429.2 1123.0 426.5 1126.5 423.9C1130.0 421.3 1133.5 418.9 1137.0 417.4C1140.5 415.9 1143.7 415.5 1147.5 414.7C1151.3 413.9 1156.2 413.3 1160.0 412.4C1163.8 411.5 1166.3 411.0 1170.1 409.2C1173.9 407.4 1178.4 404.1 1182.6 401.7C1186.8 399.3 1190.9 397.4 1195.1 394.9C1199.3 392.4 1203.5 389.0 1207.7 386.6C1211.9 384.2 1216.0 382.4 1220.2 380.4C1224.4 378.4 1228.5 375.9 1232.7 374.6C1236.9 373.3 1241.5 373.4 1245.3 372.8C1249.1 372.2 1252.0 371.6 1255.3 370.8C1258.6 370.1 1262.4 368.6 1265.3 368.3C1268.2 368.0 1269.9 369.6 1272.8 369.1C1275.7 368.6 1279.6 366.8 1282.9 365.3C1286.2 363.8 1289.6 361.6 1292.9 360.3C1296.2 359.1 1299.6 358.9 1302.9 357.8C1306.2 356.8 1309.6 355.9 1312.9 354.0C1316.2 352.1 1320.4 348.4 1323.0 346.5C1325.6 344.6 1325.7 344.2 1328.3 342.3C1330.9 340.4 1335.1 337.9 1338.6 335.1C1342.0 332.3 1345.5 328.8 1349.0 325.7C1352.5 322.6 1356.0 319.5 1359.4 316.4C1362.9 313.3 1366.6 310.0 1369.7 307.1C1372.8 304.2 1374.9 301.1 1378.0 298.8C1381.1 296.6 1385.0 296.0 1388.4 293.6C1391.9 291.2 1395.6 287.1 1398.7 284.3C1401.8 281.5 1404.2 279.6 1407.0 277.0C1409.8 274.4 1412.9 270.9 1415.3 268.8C1417.7 266.7 1419.1 265.7 1421.5 264.6C1423.9 263.5 1427.0 262.5 1429.8 262.1C1432.6 261.8 1436.4 262.4 1438.1 262.5C1439.8 262.6 1438.5 263.0 1440.0 263.0C1441.5 263.0 1445.2 262.9 1447.2 262.6C1449.2 262.3 1450.7 261.7 1452.0 261.4C1453.3 261.1 1454.5 260.9 1455.0 260.8" stroke="#4caf50" stroke-width="3" fill="none" stroke-linejoin="round" stroke-linecap="round"/>

</g>
<line x1="1759.5" y1="27" x2="1759.5" y2="857" stroke="#6a6a6a" stroke-width="1"/>
<line x1="10" y1="829.5" x2="1825" y2="829.5" stroke="#6a6a6a" stroke-width="1"/>
<g fill="#dedede"><path d="M11.9 879.25H24.3V893.75H17.8V885.15H11.9Z"/><circle cx="28.7" cy="881.8" r="2.6"/><path d="M33.65 879.25H41.9L37.3 893.75H29.5Z"/></g>
</svg>
<div class="lg" style="left:18.0px;transform:scaleX(0.985)">SOL / TetherUS · 4h · Binance</div><div class="lg" style="left:185.0px;transform:scaleX(0.949)">O207.07</div><div class="lg" style="left:236.0px;transform:scaleX(0.963)">H212.78</div><div class="lg" style="left:287.3px;transform:scaleX(0.945)">L204.58</div><div class="lg" style="left:336.0px;transform:scaleX(0.932)">C212.52</div><div class="lg" style="left:386.0px;transform:scaleX(0.946)">+5.45 (+2.63%)</div>
<div id="usdt"><span>USDT</span></div>
<div class="pl" style="top:79px">290.00</div><div class="pl" style="top:123px">270.00</div><div class="pl" style="top:170px">250.00</div><div class="pl" style="top:221px">230.00</div><div class="pl" style="top:322px">195.00</div><div class="pl" style="top:354px">185.00</div><div class="pl" style="top:395px">173.00</div><div class="pl" style="top:439px">161.00</div><div class="pl" style="top:470px">153.00</div><div class="pl" style="top:501px">145.50</div><div class="pl" style="top:533px">138.00</div><div class="pl" style="top:570px">130.00</div><div class="pl" style="top:608px">122.00</div><div class="pl" style="top:639px">116.00</div><div class="pl" style="top:672px">110.00</div><div class="pl" style="top:706px">104.00</div><div class="pl" style="top:736px">99.00</div><div class="pl" style="top:768px">94.00</div><div class="pl" style="top:801px">89.00</div>
<div id="tax"><div class="tl" style="left:-9px">2025</div><div class="tl" style="left:157px">Feb</div><div class="tl" style="left:306px">Mar</div><div class="tl" style="left:471px">Apr</div><div class="tl" style="left:629px">May</div><div class="tl" style="left:796px">Jun</div><div class="tl" style="left:956px">Jul</div><div class="tl" style="left:1119px">Aug</div><div class="tl" style="left:1284px">Sep</div><div class="tl" style="left:1444px">Oct</div><div class="tl" style="left:1608px">Nov</div></div>
<div id="cur"><div style="top:3px;transform:scaleX(0.954)">212.52</div><div style="top:16px;color:#cfcfcf;transform:scaleX(0.985)">01:11:04</div></div>
<div id="logo">TradingView</div>
</body></html>
